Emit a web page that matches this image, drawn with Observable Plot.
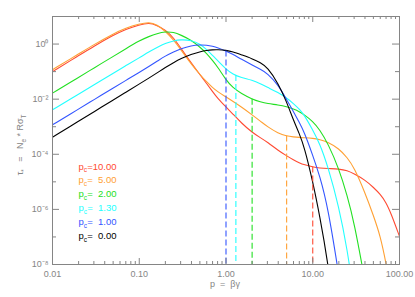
<!DOCTYPE html>
<html>
<head>
<meta charset="utf-8">
<script src="https://cdn.jsdelivr.net/npm/d3@7"></script>
<script src="https://cdn.jsdelivr.net/npm/@observablehq/plot@0.6"></script>
<style>
  html, body { margin: 0; padding: 0; background: #fff; }
  svg text { white-space: pre; }
</style>
</head>
<body>
<div id="chart"></div>
<script>
// ---------- data ----------
const pGrid = [0.01,0.02,0.03,0.05,0.07, 0.1,0.13,0.16,0.2,0.25, 0.3,0.4,0.5,0.6,0.7,
               0.8,1,1.2,1.5,2, 2.5,3,4,5,6, 7,8,10,12,15, 20,25,30,40,50, 60,70,80,100];

// log10(tau) for each cut-off momentum p_c
const logTauPc10 = [-1.00,-0.42,-0.08,0.32,0.54, 0.70,0.77,0.68,0.52,0.22, -0.14,-0.70,-1.11,-1.44,-1.72,
                    -1.97,-2.28,-2.54,-2.86,-3.21, -3.40,-3.56,-3.86,-4.06,-4.20, -4.31,-4.38,-4.46,-4.50,-4.52,
                    -4.53,-4.59,-4.71,-4.93,-5.20, -5.45,-5.75,-6.15,-6.98];
const logTauPc5  = [-0.93,-0.36,-0.02,0.37,0.58, 0.73,0.80,0.71,0.47,0.14, -0.19,-0.74,-1.10,-1.38,-1.58,
                    -1.73,-1.92,-2.08,-2.28,-2.57, -2.80,-3.00,-3.24,-3.34,-3.37, -3.39,-3.40,-3.42,-3.46,-3.56,
                    -3.79,-4.12,-4.48,-5.39,-6.22, -6.95,-7.95,-9.0,null];
const logTauPc2  = [-1.78,-1.21,-0.87,-0.45,-0.17, 0.12,0.28,0.38,0.45,0.43, 0.33,0.14,-0.11,-0.34,-0.60,
                    -0.83,-1.30,-1.59,-1.79,-2.00, -2.10,-2.16,-2.21,-2.27,-2.36, -2.45,-2.57,-2.80,-3.10,-3.61,
                    -4.52,-5.50,-6.47,-8.6,null, null,null,null,null];
const logTauPc13 = [-2.385,-1.82,-1.48,-1.06,-0.78, -0.50,-0.28,-0.13,0.03,0.12, 0.16,0.14,0.00,-0.20,-0.41,
                    -0.60,-0.91,-1.10,-1.22,-1.31, -1.44,-1.57,-1.76,-1.96,-2.16, -2.36,-2.58,-3.12,-3.60,-4.45,
                    -5.90,-7.45,-9.2,null,null, null,null,null,null];
const logTauPc1  = [-2.93,-2.36,-2.02,-1.60,-1.32, -1.03,-0.81,-0.63,-0.43,-0.28, -0.17,-0.06,-0.03,-0.04,-0.08,
                    -0.13,-0.25,-0.37,-0.55,-0.76, -0.92,-1.06,-1.48,-2.02,-2.45, -2.85,-3.20,-4.04,-4.77,-5.93,
                    -8.4,null,null,null,null, null,null,null,null];
const logTauPc0  = [-3.38,-2.80,-2.46,-2.03,-1.75, -1.45,-1.23,-1.05,-0.85,-0.67, -0.53,-0.37,-0.28,-0.23,-0.21,
                    -0.205,-0.225,-0.28,-0.39,-0.53, -0.67,-0.84,-1.42,-2.10,-2.77, -3.25,-3.74,-4.99,-6.22,-7.93,
                    -11,null,null,null,null, null,null,null,null];

const cutoffs      = [10, 5, 2, 1.3, 1, 0];
const legendLabels = ["p_c=10.00", "p_c=\u20075.00", "p_c=\u20072.00", "p_c=\u20071.30", "p_c=\u20071.00", "p_c=\u20070.00"];
const seriesColors = ["#ff4a32", "#ffa033", "#22e022", "#22ffff", "#3355ff", "#000000"];
const seriesLogs   = [logTauPc10, logTauPc5, logTauPc2, logTauPc13, logTauPc1, logTauPc0];

const xMajorTicks  = [0.01, 0.1, 1, 10, 100];
const xTickLabels  = ["0.01", "0.10", "1.00", "10.00", "100.00"];
const minorSteps   = [2, 3, 4, 5, 6, 7, 8, 9];
const yMajorTicks  = [1, 1e-2, 1e-4, 1e-6, 1e-8];
const yTickLabels  = ["10\u2070", "10\u207B\u00B2", "10\u207B\u2074", "10\u207B\u2076", "10\u207B\u2078"];
const yMinorTicks  = [10, 1e-1, 1e-3, 1e-5, 1e-7];
const xTitle = "p  =  \u03B2\u03B3";
const yTitle = "\u03C4_*   =   N_e * R\u03C3_T";

// ---------- layout ----------
const W = 415, H = 297, mL = 52, mR = 16, mT = 16, mB = 33;
const iW = W - mL - mR, iH = H - mT - mB;
const gray = "#858585";
const yDomain = [1e-8, 10];

// rows for lines
const lineRows = [];
seriesLogs.forEach((logs, s) => {
  logs.forEach((e, i) => {
    if (e !== null && e !== undefined) lineRows.push({s, p: pGrid[i], tau: Math.pow(10, e)});
  });
});

function tauAt(p, logs) {
  const lp = Math.log10(p);
  for (let i = 0; i < pGrid.length - 1; i++) {
    if (p >= pGrid[i] && p <= pGrid[i + 1]) {
      const a = Math.log10(pGrid[i]), b = Math.log10(pGrid[i + 1]);
      const t = (lp - a) / (b - a);
      return Math.pow(10, logs[i] + t * (logs[i + 1] - logs[i]));
    }
  }
  return null;
}
const cutRows = cutoffs.map((pc, s) => ({s, pc, tau: pc > 0 ? tauAt(pc, seriesLogs[s]) : null}))
                       .filter(d => d.tau !== null);

const xMinor = [];
xMajorTicks.slice(0, -1).forEach(d => minorSteps.forEach(k => xMinor.push(d * k)));

const marks = [];
// curves
seriesLogs.forEach((_, s) => {
  marks.push(Plot.line(lineRows.filter(d => d.s === s), {
    x: "p", y: "tau", stroke: seriesColors[s], strokeWidth: 1.1, clip: true, curve: "basis"
  }));
});
// dashed cut-off lines
marks.push(Plot.ruleX(cutRows, {
  x: "pc", y1: "tau", y2: () => yDomain[0], stroke: d => seriesColors[d.s],
  strokeDasharray: "6,3", strokeWidth: 1.1
}));
// frame + inward ticks
marks.push(Plot.frame({stroke: gray}));
marks.push(Plot.tickX(xMajorTicks, {x: d => d, insetTop: iH - 6, stroke: gray}));
marks.push(Plot.tickX(xMajorTicks, {x: d => d, insetBottom: iH - 6, stroke: gray}));
marks.push(Plot.tickX(xMinor, {x: d => d, insetTop: iH - 3, stroke: gray}));
marks.push(Plot.tickX(xMinor, {x: d => d, insetBottom: iH - 3, stroke: gray}));
marks.push(Plot.tickY(yMajorTicks, {y: d => d, insetRight: iW - 7, stroke: gray}));
marks.push(Plot.tickY(yMajorTicks, {y: d => d, insetLeft: iW - 7, stroke: gray}));
marks.push(Plot.tickY(yMinorTicks, {y: d => d, insetRight: iW - 4, stroke: gray}));
marks.push(Plot.tickY(yMinorTicks, {y: d => d, insetLeft: iW - 4, stroke: gray}));
// tick labels
marks.push(Plot.axisX(xMajorTicks, {
  tickSize: 0, tickPadding: 6, label: null, color: gray, fontSize: 9,
  tickFormat: d => xTickLabels[xMajorTicks.indexOf(d)]
}));
marks.push(Plot.axisY(yMajorTicks, {
  tickSize: 0, tickPadding: 4, label: null, color: gray, fontSize: 9,
  tickFormat: d => yTickLabels[yMajorTicks.indexOf(d)]
}));
// titles
marks.push(Plot.text([xTitle], {
  text: d => d, frameAnchor: "bottom", textAnchor: "middle", lineAnchor: "middle",
  dy: 20, dx: -1, fill: gray, fontSize: 9
}));
marks.push(Plot.text([yTitle], {
  text: d => d, frameAnchor: "left", textAnchor: "middle", lineAnchor: "middle",
  rotate: -90, dx: -32, dy: 4.5, fill: gray, fontSize: 9, ariaLabel: "richtext"
}));
// legend
legendLabels.forEach((lab, i) => {
  marks.push(Plot.text([lab], {
    text: d => d, frameAnchor: "top-left", textAnchor: "start", lineAnchor: "middle",
    dx: 26, dy: 150 + i * 13.9, fill: seriesColors[i], fontSize: 9.5, ariaLabel: "richtext"
  }));
});

const svg = Plot.plot({
  width: W, height: H,
  marginLeft: mL, marginRight: mR, marginTop: mT, marginBottom: mB,
  x: {type: "log", domain: [0.01, 100]},
  y: {type: "log", domain: yDomain},
  style: {fontFamily: "'Liberation Sans', Arial, Helvetica, sans-serif", fontSize: "9px", background: "#fff"},
  marks
});

// rich text: "_x" => subscript x
function setRich(el) {
  const src = el.textContent;
  if (src.indexOf("_") < 0) return;
  const parts = [];
  let buf = "";
  for (let i = 0; i < src.length; i++) {
    if (src[i] === "_" && i + 1 < src.length) {
      if (buf) parts.push([buf, false]);
      buf = "";
      parts.push([src[i + 1], true]);
      i++;
    } else buf += src[i];
  }
  if (buf) parts.push([buf, false]);
  while (el.firstChild) el.removeChild(el.firstChild);
  let shift = 0;
  for (const [str, sub] of parts) {
    const ts = document.createElementNS("http://www.w3.org/2000/svg", "tspan");
    ts.textContent = str;
    const want = sub ? 2.5 : 0;
    if (want !== shift) { ts.setAttribute("dy", want - shift); shift = want; }
    if (sub) ts.setAttribute("font-size", "70%");
    el.appendChild(ts);
  }
}
svg.querySelectorAll('text').forEach(setRich);

document.getElementById("chart").appendChild(svg);
</script>
</body>
</html>
